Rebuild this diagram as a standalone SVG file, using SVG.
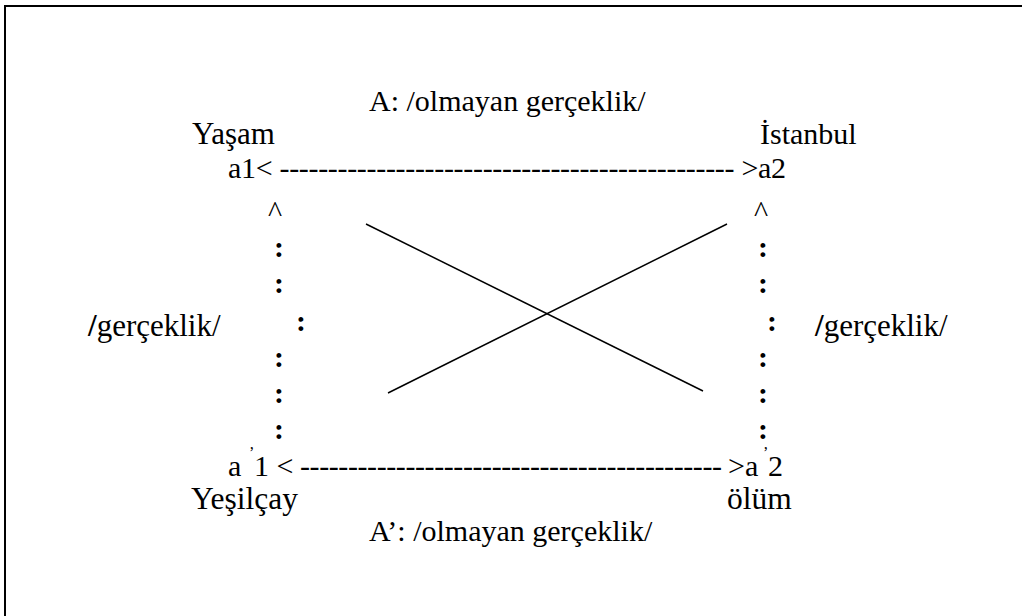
<svg xmlns="http://www.w3.org/2000/svg" width="1022" height="616" viewBox="0 0 1022 616">
<style>
.t{font-family:'Liberation Serif','Times New Roman','DejaVu Serif',serif;font-size:30px;fill:#000}
.b{font-weight:bold}
.sup{font-size:16px}
.ln{stroke:#000;stroke-width:1.5;fill:none}
</style>
<rect x="0" y="0" width="1022" height="616" fill="#fff"/>
<rect x="5" y="6" width="1040" height="640" fill="none" stroke="#000" stroke-width="2"/>
<g class="t" font-family="Liberation Serif, serif">
<g id="title-top"><text x="369" y="111">A: /olmayan gerçeklik/</text></g>
<g id="yasam"><text x="192" y="144" font-size="31">Yaşam</text></g>
<g id="istanbul"><text x="760" y="144" font-size="30">İstanbul</text></g>
<g id="top-row"><text x="228" y="178" textLength="558" lengthAdjust="spacing">a1&lt; ----------------------------------------------- &gt;a2</text></g>
<g id="left-col">
<text x="268" y="222">^</text>
<text class="b" x="274" y="257">:</text>
<text class="b" x="274" y="293">:</text>
<text class="b" x="296" y="331">:</text>
<text class="b" x="274" y="367">:</text>
<text class="b" x="274" y="403">:</text>
<text class="b" x="274" y="439">:</text>
</g>
<g id="right-col">
<text x="754" y="222">^</text>
<text class="b" x="758" y="257">:</text>
<text class="b" x="758" y="293">:</text>
<text class="b" x="767" y="331">:</text>
<text class="b" x="758" y="367">:</text>
<text class="b" x="758" y="403">:</text>
<text class="b" x="758" y="439">:</text>
</g>
<g id="left-label"><text x="88" y="336" font-size="31"><tspan class="b">/</tspan>gerçeklik/</text></g>
<g id="right-label"><text x="815" y="336" font-size="31"><tspan class="b">/</tspan>gerçeklik/</text></g>
<g id="bottom-row">
<text x="228" y="476">a</text>
<text class="sup" x="249" y="458">’</text>
<text x="254" y="476">1 &lt;</text>
<text x="300" y="476" textLength="422" lengthAdjust="spacing">--------------------------------------------</text>
<text x="728" y="476">&gt;a</text>
<text class="sup" x="763" y="458">’</text>
<text x="768" y="476">2</text>
</g>
<g id="yesilcay"><text x="191" y="509" font-size="31.5">Yeşilçay</text></g>
<g id="olum"><text x="727" y="509" font-size="31.5">ölüm</text></g>
<g id="title-bottom"><text x="369" y="541">A’: /olmayan gerçeklik/</text></g>
</g>
<g id="connectors">
<line class="ln" x1="366" y1="224" x2="703" y2="391"/>
<line class="ln" x1="388" y1="393" x2="727" y2="224"/>
</g>
</svg>
